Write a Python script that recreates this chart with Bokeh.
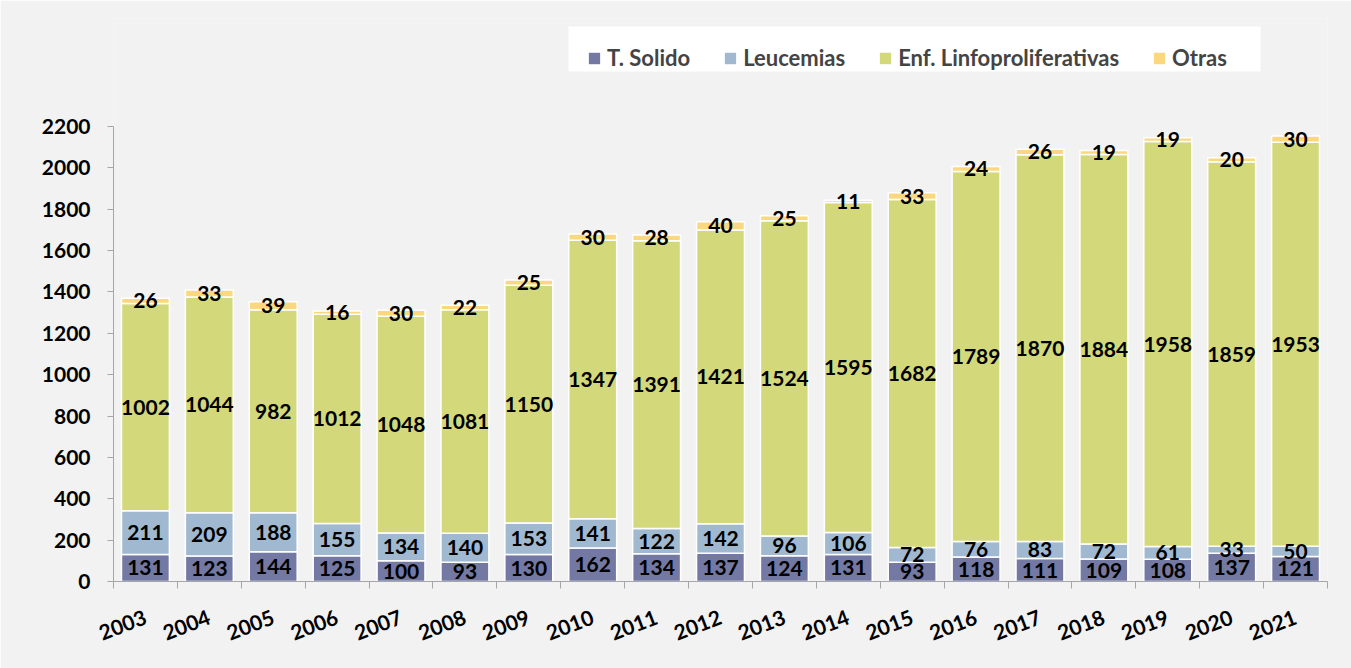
import numpy as np
from bokeh.plotting import figure
from bokeh.models import ColumnDataSource, Range1d, FixedTicker, Legend, LegendItem, BoxAnnotation
from bokeh.core.properties import value
from bokeh.embed import file_html
from bokeh.resources import INLINE

years = ["2003", "2004", "2005", "2006", "2007", "2008", "2009", "2010", "2011", "2012",
         "2013", "2014", "2015", "2016", "2017", "2018", "2019", "2020", "2021"]
solido = [131, 123, 144, 125, 100, 93, 130, 162, 134, 137, 124, 131, 93, 118, 111, 109, 108, 137, 121]
leucemias = [211, 209, 188, 155, 134, 140, 153, 141, 122, 142, 96, 106, 72, 76, 83, 72, 61, 33, 50]
linfo = [1002, 1044, 982, 1012, 1048, 1081, 1150, 1347, 1391, 1421, 1524, 1595, 1682, 1789, 1870, 1884, 1958, 1859, 1953]
otras = [26, 33, 39, 16, 30, 22, 25, 30, 28, 40, 25, 11, 33, 24, 26, 19, 19, 20, 30]
series_names = ["T. Solido", "Leucemias", "Enf. Linfoproliferativas", "Otras"]
y_ticks = [0, 200, 400, 600, 800, 1000, 1200, 1400, 1600, 1800, 2000, 2200]
y_max = 2200

colors = ["#7379A3", "#A0B9D0", "#D3D97B", "#FBD87F"]
FONT = "Lato"
BG = "#F2F2F2"

# layout (pixels)
W, H = 1351, 668
LEFT, RIGHT, BOTTOM = 113, 24, 87
AXIS_TOP_PX = 126     # pixel row of the 2200 tick
FRAME_TOP_PX = 18     # frame extends above the axis to host the legend
frame_h_axis = (H - BOTTOM) - AXIS_TOP_PX
px_per_unit = frame_h_axis / y_max
y_end = ((H - BOTTOM) - FRAME_TOP_PX) / px_per_unit

n = len(years)
px_per_cat = (W - LEFT - RIGHT) / n
xs = np.arange(n) + 0.5
keys = ["solido", "leucemias", "linfo", "otras"]
src = ColumnDataSource(dict(x=xs, solido=solido, leucemias=leucemias, linfo=linfo, otras=otras))

p = figure(width=W, height=H, output_backend="svg", toolbar_location=None,
           x_range=Range1d(0, n), y_range=Range1d(0, y_end),
           min_border_left=LEFT, min_border_right=RIGHT, min_border_top=FRAME_TOP_PX,
           min_border_bottom=BOTTOM)
p.background_fill_color = BG
p.border_fill_color = BG
p.outline_line_color = None
p.xgrid.visible = False
p.ygrid.visible = False

# white legend panel (pixel box converted to data coords)
bx0, bx1, by0, by1 = 568, 1260, 26, 71
p.add_layout(BoxAnnotation(left=(bx0 - LEFT) / px_per_cat, right=(bx1 - LEFT) / px_per_cat,
                           top=((H - BOTTOM) - by0) / px_per_unit,
                           bottom=((H - BOTTOM) - by1) / px_per_unit,
                           fill_color="white", fill_alpha=1, line_color=None, level="underlay"))

renderers = p.vbar_stack(keys, x="x", width=0.75, source=src, color=colors,
                         line_color="white", line_width=1.5)

# labels
vals = np.array([solido, leucemias, linfo, otras], dtype=float)
cum = np.cumsum(vals, axis=0)
bottoms = cum - vals
lx, ly, lt = [], [], []
for s in range(4):
    for i in range(n):
        lx.append(xs[i])
        ly.append(bottoms[s, i] + vals[s, i] / 2)
        lt.append(str(int(vals[s, i])))
p.text(x=lx, y=ly, text=lt, text_align="center", text_baseline="middle",
       text_font=value(FONT), text_font_style="bold", text_font_size="21px", text_color="black")

# y axis
ya = p.yaxis[0]
ya.ticker = FixedTicker(ticks=y_ticks)
ya.bounds = (0, y_max)
ya.axis_line_color = "#A6A6A6"
ya.major_tick_line_color = "#A6A6A6"
ya.major_tick_out = 6
ya.major_tick_in = 0
ya.minor_tick_line_color = None
ya.major_label_text_font = FONT
ya.major_label_text_font_style = "bold"
ya.major_label_text_font_size = "21px"
ya.major_label_text_color = "black"
ya.major_label_standoff = 17

# x axis
xa = p.xaxis[0]
xa.ticker = FixedTicker(ticks=list(xs), minor_ticks=list(range(n + 1)))
xa.major_label_overrides = {float(x): y for x, y in zip(xs, years)}
xa.axis_line_color = "#A6A6A6"
xa.major_tick_line_color = None
xa.minor_tick_line_color = "#A6A6A6"
xa.minor_tick_out = 7
xa.minor_tick_in = 0
xa.major_label_orientation = 0.36
xa.major_label_text_font = FONT
xa.major_label_text_font_style = "bold"
xa.major_label_text_font_size = "21px"
xa.major_label_text_color = "black"
xa.major_label_standoff = 28

legend = Legend(items=[LegendItem(label=nm, renderers=[r]) for nm, r in zip(series_names, renderers)],
                orientation="horizontal", location=(597 - 11 - LEFT, (H - BOTTOM) - by1))
legend.background_fill_alpha = 0
legend.border_line_color = None
legend.label_text_font = FONT
legend.label_text_font_style = "bold"
legend.label_text_font_size = "22px"
legend.label_height = 23
legend.glyph_width = 16
legend.glyph_height = 16
legend.label_standoff = 5
legend.spacing = 32
legend.padding = 11
legend.margin = 0
p.add_layout(legend, "center")

open("out.html", "w").write(file_html(p, INLINE))
